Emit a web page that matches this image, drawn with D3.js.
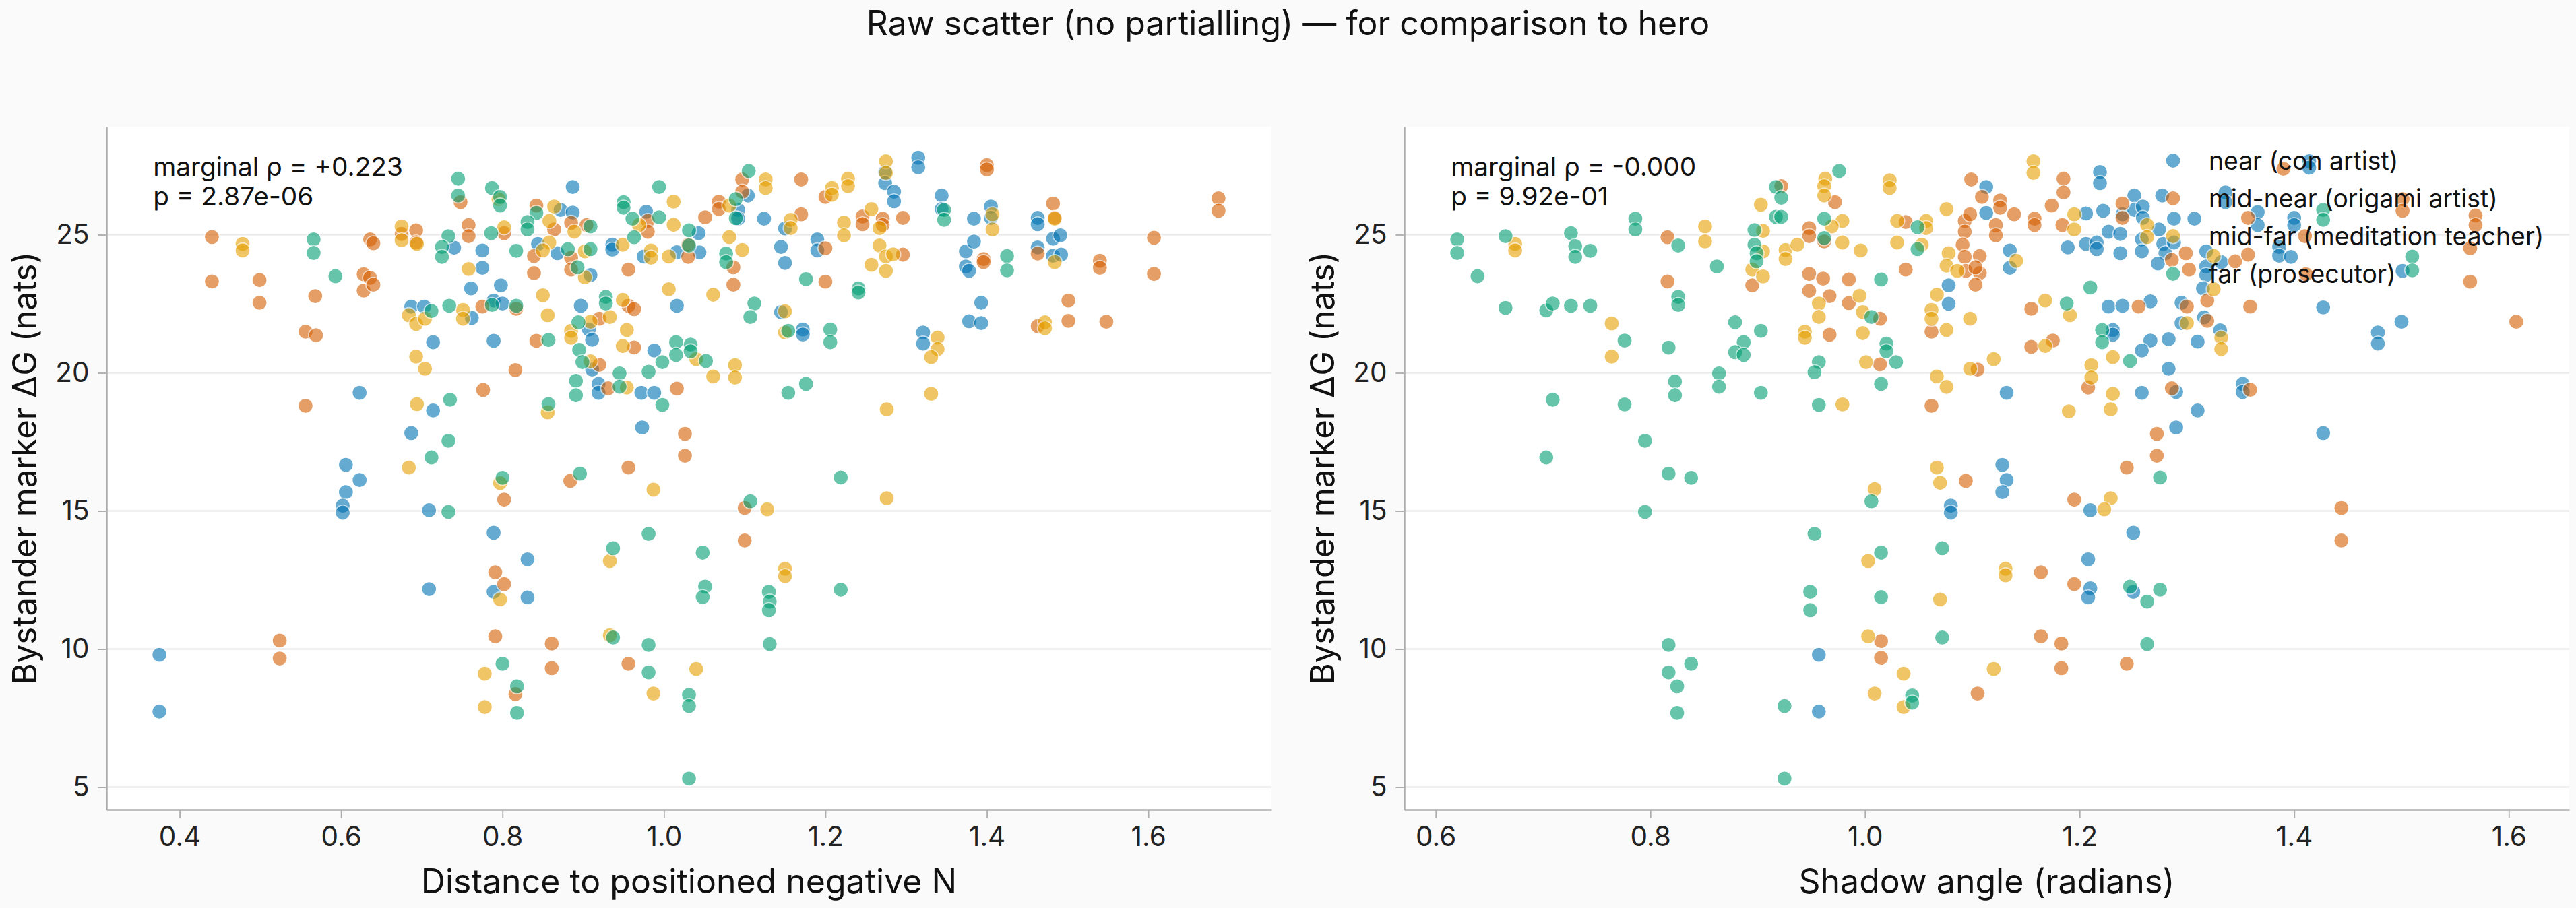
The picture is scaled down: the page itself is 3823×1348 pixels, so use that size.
<!DOCTYPE html>
<html>
<head>
<meta charset="utf-8">
<script src="https://cdn.jsdelivr.net/npm/d3@7"></script>
<style>
  html, body { margin: 0; padding: 0; background: #fafafa; }
  svg { display: block; font-family: Inter, "Noto Sans", sans-serif; }
</style>
</head>
<body>
<div id="chart"></div>
<script>
// --- data: [x, ΔG] per group ---
const groupNames = ["near (con artist)", "mid-near (origami artist)", "mid-far (meditation teacher)", "far (prosecutor)"];
const groupColors = ["#0072B2", "#D55E00", "#E69F00", "#009E73"];

// left panel : distance to positioned negative N
const distNear = [
  [0.375,9.79],[0.375,7.74],[0.606,16.67],[0.623,16.12],[0.606,15.68],[0.602,15.19],[0.602,14.94],[0.623,19.28],
  [0.687,17.82],[0.714,18.64],[0.709,15.03],[0.709,12.17],[0.789,14.21],[0.831,13.25],[0.789,12.07],[0.831,11.87],
  [0.687,22.40],[0.703,22.40],[0.714,21.11],[0.762,21.99],[0.789,22.62],[0.800,22.51],[0.789,21.16],[0.761,23.06],
  [0.798,23.17],[0.740,24.53],[0.775,24.43],[0.775,23.80],[0.887,26.73],[0.872,25.90],[0.887,25.80],[0.844,24.67],
  [0.868,24.33],[0.909,23.54],[0.897,22.43],[0.907,21.57],[0.911,21.20],[0.911,20.12],[0.919,19.60],[0.919,19.28],
  [0.936,24.64],[0.936,24.46],[0.978,25.83],[0.975,24.21],[0.988,20.81],[0.972,19.28],[0.988,19.28],[0.973,18.02],
  [1.043,25.06],[1.092,25.90],[1.092,25.58],[1.104,26.42],[1.124,25.58],[1.150,25.23],[1.274,27.27],[1.274,26.87],
  [1.285,26.56],[1.285,26.21],[1.315,27.79],[1.315,27.44],[1.344,26.42],[1.344,25.93],[1.384,25.58],[1.405,26.02],
  [1.405,25.61],[1.463,25.61],[1.463,25.38],[1.044,24.36],[1.016,24.37],[1.016,22.43],[1.145,24.56],[1.150,23.98],
  [1.190,24.83],[1.190,24.43],[1.374,24.40],[1.384,24.75],[1.374,23.85],[1.378,23.69],[1.482,24.86],[1.491,24.98],
  [1.463,24.54],[1.482,24.24],[1.492,24.28],[1.145,22.20],[1.172,21.57],[1.172,21.39],[1.393,22.54],[1.378,21.87],
  [1.393,21.80],[1.321,21.46],[1.321,21.06]
];
const distMidNear = [
  [0.440,24.92],[0.440,23.31],[0.499,23.36],[0.499,22.54],[0.568,22.78],[0.556,21.49],[0.569,21.36],[0.628,23.57],
  [0.628,22.98],[0.636,23.44],[0.640,23.19],[0.636,24.83],[0.640,24.69],[0.675,25.03],[0.693,25.16],[0.693,24.72],
  [0.556,18.81],[0.524,10.31],[0.524,9.66],[0.748,26.18],[0.758,25.35],[0.758,24.95],[0.802,25.06],[0.775,22.40],
  [0.817,22.32],[0.842,21.16],[0.816,20.10],[0.776,19.38],[0.802,15.41],[0.791,12.78],[0.802,12.35],[0.791,10.46],
  [0.861,10.20],[0.861,9.31],[0.816,8.37],[0.842,26.06],[0.864,25.19],[0.885,25.43],[0.904,25.35],[0.839,24.23],
  [0.839,23.61],[0.885,24.17],[0.885,23.74],[0.956,23.74],[0.980,25.50],[0.980,25.11],[0.956,22.43],[0.963,22.31],
  [0.920,21.96],[0.963,20.92],[0.920,20.29],[0.931,19.44],[0.884,16.09],[0.956,16.57],[0.956,9.47],
  [1.051,25.63],[1.068,26.20],[1.068,25.93],[1.097,27.00],[1.097,26.56],[1.170,27.00],[1.170,25.74],[1.200,26.37],
  [1.400,27.52],[1.400,27.36],[1.246,25.66],[1.246,25.38],[1.271,25.58],[1.271,25.35],[1.296,25.61],[1.482,26.13],
  [1.484,25.61],[1.687,26.32],[1.687,25.87],[1.030,24.20],[1.030,24.64],[1.086,23.82],[1.086,23.19],[1.200,24.51],
  [1.200,23.30],[1.296,24.28],[1.396,24.12],[1.396,24.01],[1.463,24.32],[1.540,24.06],[1.540,23.80],[1.607,24.89],
  [1.607,23.58],[1.501,22.62],[1.501,21.88],[1.548,21.85],[1.463,21.69],[1.016,19.43],[1.026,17.79],[1.026,17.00],
  [1.100,15.11],[1.100,13.93]
];
const distMidFar = [
  [0.478,24.67],[0.478,24.43],[0.675,25.30],[0.675,24.80],[0.694,24.67],[0.684,22.09],[0.693,21.77],[0.704,21.96],
  [0.693,20.59],[0.704,20.15],[0.694,18.87],[0.684,16.57],[0.751,22.28],[0.751,21.96],[0.758,23.76],[0.795,26.29],
  [0.802,25.27],[0.864,26.02],[0.858,25.50],[0.889,25.11],[0.858,24.72],[0.850,24.43],[0.902,24.40],[0.902,23.46],
  [0.850,22.81],[0.856,22.09],[0.856,18.57],[0.797,16.01],[0.797,11.80],[0.778,9.11],[0.778,7.90],[0.933,10.50],
  [0.933,13.19],[0.987,8.39],[0.987,15.77],[0.949,24.64],[0.969,25.35],[0.984,24.43],[0.984,24.17],[1.006,24.21],
  [1.006,23.03],[1.012,26.20],[1.012,25.36],[0.933,22.02],[0.909,21.85],[0.885,21.52],[0.885,21.27],[0.954,21.55],
  [0.949,20.97],[0.949,22.64],[0.909,20.42],[0.954,19.47],
  [1.081,26.06],[1.126,27.00],[1.126,26.69],[1.157,25.54],[1.157,25.24],[1.208,26.69],[1.208,26.45],[1.228,27.03],
  [1.228,26.76],[1.275,27.66],[1.275,27.24],[1.257,25.93],[1.267,25.24],[1.223,25.44],[1.223,24.98],[1.407,25.74],
  [1.407,25.19],[1.484,25.58],[1.081,24.92],[1.097,24.45],[1.267,24.61],[1.275,24.21],[1.284,24.29],[1.257,23.91],
  [1.275,23.69],[1.484,24.01],[1.061,22.83],[1.150,22.23],[1.150,21.46],[1.472,21.83],[1.472,21.61],[1.339,21.28],
  [1.339,20.86],[1.331,20.57],[1.088,20.28],[1.088,19.83],[1.061,19.87],[1.040,20.50],[1.331,19.24],[1.276,18.68],
  [1.276,15.46],[1.128,15.06],[1.150,12.91],[1.150,12.64],[1.040,9.28]
];
const distFar = [
  [0.566,24.83],[0.566,24.34],[0.593,23.50],[0.745,27.03],[0.745,26.42],[0.787,26.69],[0.797,26.37],[0.797,26.06],
  [0.733,24.95],[0.725,24.56],[0.725,24.20],[0.786,25.06],[0.817,24.42],[0.842,25.79],[0.831,25.46],[0.831,25.19],
  [0.881,24.48],[0.909,24.48],[0.893,23.82],[0.909,25.30],[0.950,26.18],[0.950,25.98],[0.961,25.58],[0.994,26.73],
  [0.994,25.63],[0.963,24.91],[0.712,22.24],[0.734,22.43],[0.787,22.46],[0.817,22.43],[0.857,21.19],[0.928,22.75],
  [0.928,22.51],[0.894,21.83],[0.895,20.83],[0.899,20.39],[0.891,19.71],[0.891,19.19],[0.945,19.98],[0.945,19.50],
  [0.981,20.04],[0.998,20.39],[0.998,18.84],[0.735,19.03],[0.857,18.87],[0.733,17.54],[0.712,16.94],[0.733,14.97],
  [0.800,16.20],[0.896,16.35],[0.981,14.17],[0.937,13.65],[0.937,10.42],[0.981,10.15],[0.800,9.47],[0.818,8.65],
  [0.818,7.69],[0.981,9.16],
  [1.031,25.16],[1.089,26.29],[1.089,25.60],[1.105,27.31],[1.347,25.90],[1.347,25.54],[1.031,24.61],[1.077,24.32],
  [1.077,24.01],[1.176,23.39],[1.241,23.06],[1.241,22.91],[1.425,24.23],[1.425,23.71],[1.112,22.51],[1.107,22.02],
  [1.154,21.52],[1.206,21.57],[1.206,21.11],[1.052,20.43],[1.033,21.02],[1.033,20.78],[1.015,21.11],[1.015,20.65],
  [1.154,19.28],[1.176,19.60],[1.219,16.21],[1.107,15.35],[1.048,13.49],[1.051,12.26],[1.048,11.88],[1.219,12.15],
  [1.130,12.07],[1.131,11.72],[1.130,11.41],[1.131,10.18],[1.031,8.34],[1.031,7.94],[1.031,5.31]
];

// right panel : shadow angle
const angleNear = [
  [0.957,9.79],[0.957,7.74],[1.078,23.17],[1.078,22.50],[1.080,15.19],[1.080,14.94],
  [1.113,26.73],[1.113,25.79],[1.135,24.43],[1.135,23.80],[1.132,19.28],[1.128,16.67],[1.132,16.12],[1.128,15.68],
  [1.206,25.77],[1.222,25.87],[1.219,27.27],[1.219,26.87],[1.189,24.54],[1.206,24.67],[1.216,24.72],[1.216,24.48],
  [1.227,25.11],[1.238,25.03],[1.238,24.33],[1.240,25.74],[1.251,26.42],[1.251,25.90],[1.259,26.02],[1.259,25.61],
  [1.258,24.83],[1.258,24.40],[1.274,25.19],[1.277,26.42],[1.278,24.67],[1.280,24.33],[1.273,23.96],[1.288,25.58],
  [1.288,24.72],[1.307,25.58],[1.318,24.40],[1.318,23.85],[1.318,23.54],[1.315,23.06],[1.332,24.01],[1.336,26.53],
  [1.336,26.18],[1.366,25.82],[1.366,25.35],[1.400,25.61],[1.400,25.35],[1.386,24.56],[1.386,24.24],[1.397,24.20],
  [1.414,27.66],[1.414,27.43],[1.227,22.40],[1.240,22.43],[1.266,22.59],[1.295,22.54],[1.295,21.80],[1.316,22.01],
  [1.331,21.54],[1.231,21.55],[1.231,21.38],[1.283,21.22],[1.266,21.17],[1.258,20.81],[1.310,21.13],[1.283,20.15],
  [1.258,19.28],[1.290,19.31],[1.310,18.64],[1.290,18.02],[1.352,19.60],[1.352,19.31],[1.427,22.37],[1.427,17.82],
  [1.478,21.46],[1.478,21.06],[1.500,21.85],[1.501,23.69],[1.210,15.03],[1.250,14.21],[1.208,13.25],[1.210,12.20],
  [1.208,11.87],[1.250,12.07]
];
const angleMidNear = [
  [0.816,24.91],[0.816,23.31],[0.895,23.17],[0.922,26.76],[0.948,25.24],[0.948,24.95],[0.962,24.76],[0.972,26.18],
  [0.948,23.58],[0.961,23.41],[0.948,22.97],[0.967,22.78],[0.985,23.38],[0.985,22.53],[1.014,21.96],[0.967,21.38],
  [1.014,20.31],[1.038,25.46],[1.038,23.74],[1.062,21.49],[1.062,18.81],[1.093,25.50],[1.093,25.11],[1.091,24.64],
  [1.015,10.29],[1.015,9.68],[1.094,16.09],[1.093,24.20],[1.094,23.69],
  [1.099,27.00],[1.109,26.37],[1.126,26.24],[1.126,25.98],[1.098,25.74],[1.122,25.35],[1.122,24.98],[1.139,25.74],
  [1.158,25.58],[1.158,25.35],[1.174,26.06],[1.185,27.03],[1.185,26.53],[1.184,25.35],[1.107,24.23],[1.107,23.61],
  [1.103,23.82],[1.103,23.19],[1.240,26.13],[1.240,25.61],[1.299,24.33],[1.302,23.74],[1.286,24.09],[1.345,24.04],
  [1.357,25.61],[1.357,24.28],[1.390,27.39],[1.501,26.29],[1.501,25.87],[1.569,25.70],[1.569,25.35],[1.564,24.51],
  [1.564,23.30],[1.410,24.95],[1.411,23.57],[1.359,22.40],[1.319,22.62],[1.319,21.88],[1.300,22.40],[1.607,21.85],
  [1.155,22.32],[1.155,20.94],[1.175,21.17],[1.105,20.12],[1.208,19.47],[1.255,22.40],[1.286,19.44],[1.359,19.39],
  [1.272,17.79],[1.272,17.00],[1.244,16.57],[1.195,15.41],[1.444,15.11],[1.444,13.93],[1.164,12.78],[1.195,12.35],
  [1.164,10.46],[1.183,10.20],[1.183,9.31],[1.244,9.47],[1.105,8.39]
];
const angleMidFar = [
  [0.674,24.67],[0.674,24.43],[0.764,21.79],[0.764,20.59],[0.851,25.30],[0.851,24.76],[0.903,26.09],[0.905,25.14],
  [0.905,24.40],[0.895,23.74],[0.905,23.49],[0.926,24.45],[0.926,24.12],[0.937,24.64],[0.963,27.03],[0.962,26.76],
  [0.962,26.42],[0.979,25.50],[0.969,25.30],[0.979,24.72],[0.996,24.43],[0.957,22.51],[0.957,22.02],[0.944,21.49],
  [0.944,21.27],[0.995,22.79],[0.998,22.20],[0.998,21.44],[1.001,20.39],[0.979,18.86],[1.023,26.97],[1.023,26.69],
  [1.030,25.50],[1.030,24.72],[1.057,25.50],[1.057,25.24],[1.053,24.64],[1.076,25.93],[1.078,24.33],[1.076,23.88],
  [1.086,23.69],[1.067,22.83],[1.062,22.28],[1.062,21.96],[1.076,21.55],[1.067,19.87],[1.076,19.49],[1.009,15.79],
  [1.003,13.19],[1.070,11.80],[1.003,10.46],[1.036,9.11],[1.009,8.39],[1.036,7.90],[1.067,16.57],[1.070,16.02],
  [1.157,27.66],[1.157,27.24],[1.141,24.06],[1.120,20.50],[1.098,20.15],[1.098,21.96],[1.168,22.62],[1.168,20.97],
  [1.195,25.74],[1.195,25.19],[1.263,25.35],[1.263,24.92],[1.325,24.23],[1.325,23.03],[1.300,21.80],[1.332,21.27],
  [1.332,20.86],[1.231,20.57],[1.211,20.28],[1.211,19.83],[1.231,19.24],[1.190,18.61],[1.229,18.68],[1.229,15.46],
  [1.223,15.06],[1.131,12.91],[1.131,12.67],[1.120,9.28],[1.191,22.09]
];
const angleFar = [
  [0.620,24.83],[0.620,24.34],[0.639,23.50],[0.665,24.95],[0.665,22.35],[0.703,22.26],[0.709,22.51],[0.726,22.43],
  [0.744,22.43],[0.726,25.06],[0.730,24.59],[0.730,24.20],[0.744,24.42],[0.786,25.58],[0.786,25.19],[0.709,19.03],
  [0.703,16.94],[0.776,21.17],[0.776,18.86],[0.795,17.54],[0.795,14.97],[0.817,16.35],[0.838,16.20],[0.817,20.91],
  [0.823,19.69],[0.823,19.19],[0.826,24.61],[0.826,22.75],[0.826,22.46],[0.862,23.85],[0.864,19.98],[0.864,19.50],
  [0.879,21.83],[0.887,21.11],[0.879,20.75],[0.887,20.65],[0.903,21.52],[0.903,19.28],[0.897,25.17],[0.897,24.64],
  [0.899,24.33],[0.899,24.04],[0.917,26.73],[0.922,26.34],[0.917,25.65],[0.922,25.65],[0.962,25.58],[0.962,24.88],
  [0.976,27.31],[0.957,20.39],[0.953,20.02],[0.957,18.84],[1.015,23.38],[1.006,22.02],[1.020,21.06],[1.020,20.78],
  [1.029,20.39],[1.015,19.60],[1.049,25.27],[1.049,24.48],[1.006,15.35],[0.953,14.17],[1.015,13.49],[1.072,13.65],
  [0.949,12.07],[0.949,11.41],[1.015,11.88],[1.072,10.42],[0.817,10.15],[0.817,9.16],[0.838,9.47],[0.825,8.65],
  [0.825,7.69],[0.925,7.94],[0.925,5.31],[1.044,8.32],[1.044,8.06],
  [1.210,23.09],[1.188,22.51],[1.221,21.55],[1.221,21.11],[1.247,20.43],[1.275,16.21],[1.247,12.26],[1.263,11.72],
  [1.275,12.15],[1.263,10.18],[1.427,25.90],[1.427,25.54],[1.510,24.21],[1.510,23.71]
];

const yTicks = [5, 10, 15, 20, 25];
const distTicks = [0.4, 0.6, 0.8, 1.0, 1.2, 1.4, 1.6];
const angleTicks = [0.6, 0.8, 1.0, 1.2, 1.4, 1.6];

const panels = [
  { series: [distNear, distMidNear, distMidFar, distFar], xTicks: distTicks,
    xLabel: "Distance to positioned negative N", stat: ["marginal \u03c1 = +0.223", "p = 2.87e-06"], legend: false },
  { series: [angleNear, angleMidNear, angleMidFar, angleFar], xTicks: angleTicks,
    xLabel: "Shadow angle (radians)", stat: ["marginal \u03c1 = -0.000", "p = 9.92e-01"], legend: true }
];

// --- layout ---
const width = 3823, height = 1348;
const axTop = 188, axBottom = 1202;
const axLefts = [158, 2084], axWidth = 1729;
const tickLen = 12.7, tickPad = 12.7;
const dotR = 11.2;

const svg = d3.select("#chart").append("svg")
  .attr("width", width).attr("height", height);
svg.append("rect").attr("width", width).attr("height", height).attr("fill", "#fafafa");

svg.append("text")
  .attr("x", width / 2).attr("y", 52)
  .attr("text-anchor", "middle")
  .attr("font-size", 50).attr("fill", "#111")
  .text("Raw scatter (no partialling) \u2014 for comparison to hero");

// 5% margins like the plotting lib
function padded(ext) {
  const d = (ext[1] - ext[0]) * 0.05;
  return [ext[0] - d, ext[1] + d];
}

const allY = panels.flatMap(p => p.series.flat().map(d => d[1]));

panels.forEach((p, pi) => {
  const left = axLefts[pi];
  const pts = p.series.flat();
  const x = d3.scaleLinear().domain(padded(d3.extent(pts, d => d[0]))).range([left, left + axWidth]);
  const y = d3.scaleLinear().domain(padded(d3.extent(allY))).range([axBottom, axTop]);

  const g = svg.append("g");
  g.append("rect")
    .attr("x", left).attr("y", axTop).attr("width", axWidth).attr("height", axBottom - axTop)
    .attr("fill", "#fff");

  // horizontal grid
  g.selectAll(".grid").data(yTicks).enter().append("line")
    .attr("x1", left).attr("x2", left + axWidth)
    .attr("y1", d => y(d)).attr("y2", d => y(d))
    .attr("stroke", "#ebebeb").attr("stroke-width", 2.5);

  // points
  p.series.forEach((arr, si) => {
    g.append("g").selectAll("circle").data(arr).enter().append("circle")
      .attr("cx", d => x(d[0])).attr("cy", d => y(d[1])).attr("r", dotR)
      .attr("fill", groupColors[si]).attr("stroke", "#fff").attr("stroke-width", 1.6)
      .attr("opacity", 0.6);
  });

  // axes
  const xAxis = g.append("g").attr("transform", `translate(0,${axBottom})`)
    .call(d3.axisBottom(x).tickValues(p.xTicks).tickFormat(d3.format(".1f"))
      .tickSize(tickLen).tickPadding(tickPad).tickSizeOuter(0));
  const yAxis = g.append("g").attr("transform", `translate(${left},0)`)
    .call(d3.axisLeft(y).tickValues(yTicks).tickFormat(d3.format("d"))
      .tickSize(tickLen).tickPadding(tickPad).tickSizeOuter(0));
  [xAxis, yAxis].forEach(a => {
    a.select(".domain").attr("stroke", "#adadad").attr("stroke-width", 2.5);
    a.selectAll(".tick line").attr("stroke", "#adadad").attr("stroke-width", 1.8);
    a.selectAll(".tick text").attr("font-size", 40.5).attr("fill", "#222")
      .attr("font-family", "Inter, sans-serif");
  });

  // axis labels
  g.append("text")
    .attr("x", left + axWidth / 2).attr("y", 1326)
    .attr("text-anchor", "middle").attr("font-size", 50).attr("fill", "#111")
    .text(p.xLabel);
  g.append("text")
    .attr("transform", `translate(${left - 104},${(axTop + axBottom) / 2}) rotate(-90)`)
    .attr("text-anchor", "middle").attr("font-size", 49).attr("fill", "#111")
    .text("Bystander marker \u0394G (nats)");

  // stat annotation
  g.append("text")
    .attr("x", left + 0.04 * axWidth).attr("y", 261)
    .attr("font-size", 38.8).attr("fill", "#111")
    .selectAll("tspan").data(p.stat).enter().append("tspan")
    .attr("x", left + 0.04 * axWidth).attr("dy", (d, i) => i === 0 ? 0 : 44)
    .text(d => d);

  // legend, no frame
  if (p.legend) {
    const lg = g.append("g").attr("transform", `translate(${left + axWidth - 588},238.5)`);
    groupNames.forEach((name, i) => {
      lg.append("circle").attr("cx", 0).attr("cy", i * 56).attr("r", dotR)
        .attr("fill", groupColors[i]).attr("stroke", "#fff").attr("stroke-width", 1.6)
        .attr("opacity", 0.6);
      lg.append("text").attr("x", 53).attr("y", i * 56 + 13)
        .attr("font-size", 37.3).attr("fill", "#111").text(name);
    });
  }
});
</script>
</body>
</html>
